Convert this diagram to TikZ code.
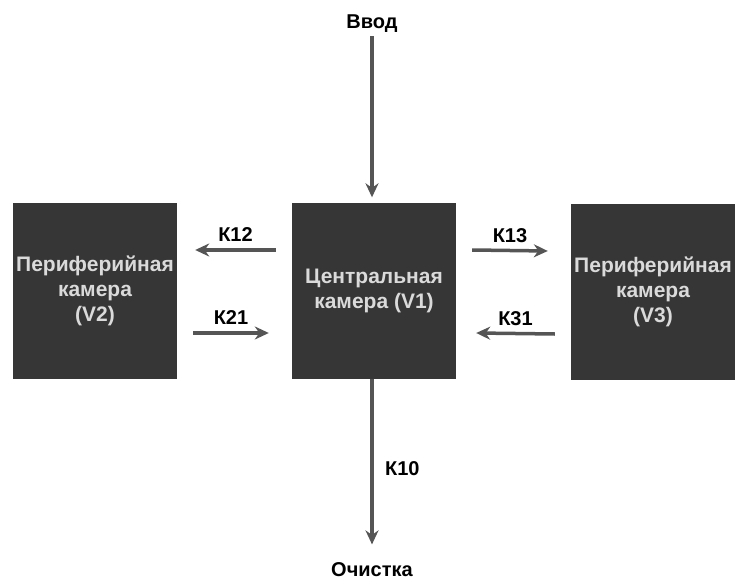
\documentclass[tikz,border=0pt]{standalone}
\usepackage{fontspec}
\setmainfont{Liberation Sans}
\usepackage{tikz}
\usetikzlibrary{positioning,arrows.meta}
\definecolor{chamberfill}{HTML}{363636}
\definecolor{chambertext}{HTML}{DADADA}
\definecolor{flowgray}{HTML}{555555}

\begin{document}
\begin{tikzpicture}[x=1pt, y=-1pt,
    chamber/.style={fill=chamberfill, draw=none, minimum width=164pt, minimum height=175pt,
        inner sep=0pt, align=center, text=chambertext, font=\bfseries\fontsize{21}{25}\selectfont},
    flow/.style={draw=flowgray, line width=3.5pt, -{Stealth[length=14pt,width=13pt]}},
    lbl/.style={font=\bfseries\fontsize{20}{24}\selectfont}]
    \useasboundingbox (0,0) rectangle (735,585);

    \node[chamber] (v1) at (374,291) {Центральная\\камера (V1)};
    \node[chamber] (v2) at (95,291) {Периферийная\\камера\\(V2)};
    \node[chamber] (v3) at (653,292) {Периферийная\\камера\\(V3)};

    \node[lbl] (inp) at (372,24) {Ввод};
    \node[lbl] (outp) at (372,570) {Очистка};

    \draw[flow, shorten >=6pt] (inp.south) -- (inp.south |- v1.north);
    \draw[flow, shorten >=15pt] (outp.north |- v1.south) -- node[lbl, right=8pt] {К10} (outp.north);

    \draw[flow] ([xshift=-16pt,yshift=41pt]v1.west) -- node[lbl, above=3pt] {К12} ([xshift=18pt,yshift=41pt]v2.east);
    \draw[flow] ([xshift=16pt,yshift=-42pt]v2.east) -- node[lbl, above=3pt] {К21} ([xshift=-23pt,yshift=-42pt]v1.west);
    \draw[flow] ([xshift=16pt,yshift=41pt]v1.east) -- node[lbl, above=3pt] {К13} ([xshift=-23pt,yshift=41pt]v3.west);
    \draw[flow] ([xshift=-16pt,yshift=-42pt]v3.west) -- node[lbl, above=3pt] {К31} ([xshift=20pt,yshift=-42pt]v1.east);
\end{tikzpicture}
\end{document}
